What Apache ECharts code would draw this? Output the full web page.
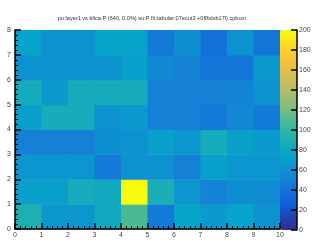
<!DOCTYPE html>
<html>
<head>
<meta charset="utf-8">
<script src="https://cdn.jsdelivr.net/npm/echarts@6/dist/echarts.min.js"></script>
<style>
  html, body { margin: 0; padding: 0; background: #fff; }
  #chart { width: 320px; height: 240px; }
</style>
</head>
<body>
<div id="chart"></div>
<script>
// bin labels along x (0..10) and y (0..8)
const xBins = ['0', '1', '2', '3', '4', '5', '6', '7', '8', '9'];
const yBins = ['0', '1', '2', '3', '4', '5', '6', '7'];

// bin contents, one row per y bin, bottom row first
const row0 = [90, 66, 66, 82, 108, 45, 75, 68, 75, 62];
const row1 = [72, 72, 85, 82, 200, 88, 65, 52, 60, 58];
const row2 = [65, 65, 65, 45, 62, 62, 50, 72, 65, 65];
const row3 = [50, 50, 50, 60, 62, 72, 65, 85, 72, 68];
const row4 = [72, 85, 85, 62, 68, 50, 50, 45, 55, 45];
const row5 = [85, 68, 85, 85, 85, 50, 50, 50, 52, 62];
const row6 = [62, 62, 62, 62, 72, 55, 50, 42, 42, 68];
const row7 = [75, 62, 62, 75, 75, 45, 60, 40, 62, 42];
const rows = [row0, row1, row2, row3, row4, row5, row6, row7];

const zMin = 0;
const zMax = 200;

// ROOT kBird palette
const birdColors = ['#352a87', '#0f5cdd', '#1481d6', '#06a4ca', '#2eb7a4',
                    '#87bf77', '#d1bb59', '#fec832', '#f9fb0e'];

const title = 'pu:layer1 vs kfica:P (640, 0.0%) su:P fit:tabular:07ecut3 +0ffbdsb17l) cpbum';

const cells = [];
rows.forEach((r, yi) => {
  r.forEach((v, xi) => cells.push([xi, yi, v]));
});

const chart = echarts.init(document.getElementById('chart'));

const labelStyle = { color: '#444', fontSize: 7, fontFamily: 'Liberation Sans' };
const tickLine = { color: '#000', width: 1 };

function valueAxis(extra) {
  return Object.assign({
    type: 'value',
    z: 10,
    axisLine: { show: true, onZero: false, lineStyle: { color: '#000', width: 1.5 } },
    axisTick: { show: true, inside: true, length: 6, lineStyle: { color: '#000', width: 1.5 } },
    axisLabel: { ...labelStyle, margin: 4 },
    splitLine: { show: false }
  }, extra);
}

chart.setOption({
  animation: false,
  title: {
    text: title,
    left: 147,
    top: 10,
    textAlign: 'center',
    textStyle: { fontSize: 5.6, fontWeight: 'normal', color: '#333', fontFamily: 'Liberation Sans' }
  },
  grid: [
    { left: 15, top: 30, width: 265, height: 199 },
    { left: 280, top: 30, width: 17, height: 200 }
  ],
  xAxis: [
    valueAxis({ gridIndex: 0, min: 0, max: 10, interval: 1, position: 'bottom',
      minorTick: { show: true, splitNumber: 5, length: 3, lineStyle: tickLine },
      axisLabel: { ...labelStyle, margin: 3 } }),
    { type: 'value', gridIndex: 1, show: false, min: 0, max: 1 }
  ],
  yAxis: [
    valueAxis({ gridIndex: 0, min: 0, max: 8, interval: 1, position: 'left',
      minorTick: { show: true, splitNumber: 5, length: 3, lineStyle: tickLine } }),
    valueAxis({ gridIndex: 1, min: zMin, max: zMax, interval: 20, position: 'right',
      axisLabel: { ...labelStyle, margin: 2 } })
  ],
  visualMap: {
    type: 'continuous',
    min: zMin,
    max: zMax,
    seriesIndex: 0,
    calculable: false,
    orient: 'vertical',
    left: 280,
    top: 30,
    itemWidth: 17,
    itemHeight: 200,
    padding: 0,
    text: null,
    showLabel: false,
    inRange: { color: birdColors }
  },
  series: [{
    // bins drawn on the value axes: each cell spans [x, x+1] x [y, y+1]
    type: 'custom',
    xAxisIndex: 0,
    yAxisIndex: 0,
    z: 1,
    data: cells,
    encode: { x: 0, y: 1 },
    renderItem: (params, api) => {
      const p0 = api.coord([api.value(0), api.value(1) + 1]);
      const p1 = api.coord([api.value(0) + 1, api.value(1)]);
      return {
        type: 'rect',
        shape: { x: p0[0], y: p0[1], width: p1[0] - p0[0] + 0.5, height: p1[1] - p0[1] + 0.5 },
        style: { fill: api.visual('color') }
      };
    }
  }]
});
</script>
</body>
</html>
